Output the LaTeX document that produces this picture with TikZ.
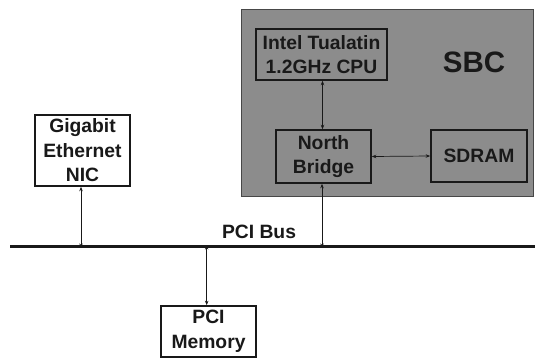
\documentclass[tikz,border=0pt]{standalone}
\usepackage{fontspec}
\setmainfont{Liberation Sans}
\usetikzlibrary{arrows.meta}
\definecolor{sbcgray}{RGB}{140,140,140}
\definecolor{ink}{RGB}{25,25,25}
\begin{document}
\begin{tikzpicture}[x=1pt,y=-1pt,
  blk/.style={draw=ink,line width=1.6pt,align=center,inner sep=0pt,
    font=\fontsize{19.3}{24.5}\selectfont\bfseries,text=ink},
  gblk/.style={blk,fill=sbcgray},
  wblk/.style={blk,fill=white},
  link/.style={draw=ink,line width=0.7pt,{Stealth[length=4.5pt,width=3.5pt]}-{Stealth[length=4.5pt,width=3.5pt]}}]
\useasboundingbox (0,0) rectangle (535,359);
% SBC board
\node[draw=ink!80,fill=sbcgray,line width=0.8pt,minimum width=291.5pt,minimum height=187.5pt,inner sep=0pt] (sbc) at (387.25,102.75) {};
\node[font=\fontsize{29.5}{32}\selectfont\bfseries,text=ink] (sbclabel) at (474,62) {SBC};
\node[gblk,minimum width=131pt,minimum height=51pt] (cpu) at (321.5,54.5) {Intel Tualatin\\1.2GHz CPU};
\node[gblk,minimum width=95pt,minimum height=53pt] (nb) at (323.5,156.5) {North\\Bridge};
\node[gblk,minimum width=96pt,minimum height=52pt] (sdram) at (479,156) {SDRAM};
% off-board devices
\node[wblk,minimum width=95pt,minimum height=71pt] (nic) at (82.5,150.5) {Gigabit\\Ethernet\\NIC};
\node[wblk,minimum width=95pt,minimum height=51pt] (mem) at (208.5,331.5) {PCI\\Memory};
% bus
\coordinate (busL) at (10,246.5);
\coordinate (busR) at (535,246.5);
\draw[ink,line width=2.8pt] (busL) -- (busR);
\node[font=\fontsize{19.3}{24.5}\selectfont\bfseries,text=ink] (buslabel) at (259,232) {PCI Bus};
% connectors
\coordinate (cpuS) at ([xshift=1pt]cpu.south);
\coordinate (nbN) at ([xshift=-0.5pt]nb.north);
\draw[link] (cpuS) -- (cpuS |- nbN);
\draw[link] (nb.east) -- (sdram.west);
\coordinate (nbS) at ([xshift=-1.5pt]nb.south);
\draw[link] (nbS) -- ([yshift=-1.4pt]nbS |- busL);
\coordinate (nicS) at ([xshift=-1.5pt]nic.south);
\draw[link] (nicS) -- ([yshift=-1.4pt]nicS |- busL);
\coordinate (memN) at ([xshift=-1.8pt]mem.north);
\draw[link] ([yshift=1.4pt]memN |- busL) -- (memN);
\end{tikzpicture}
\end{document}
